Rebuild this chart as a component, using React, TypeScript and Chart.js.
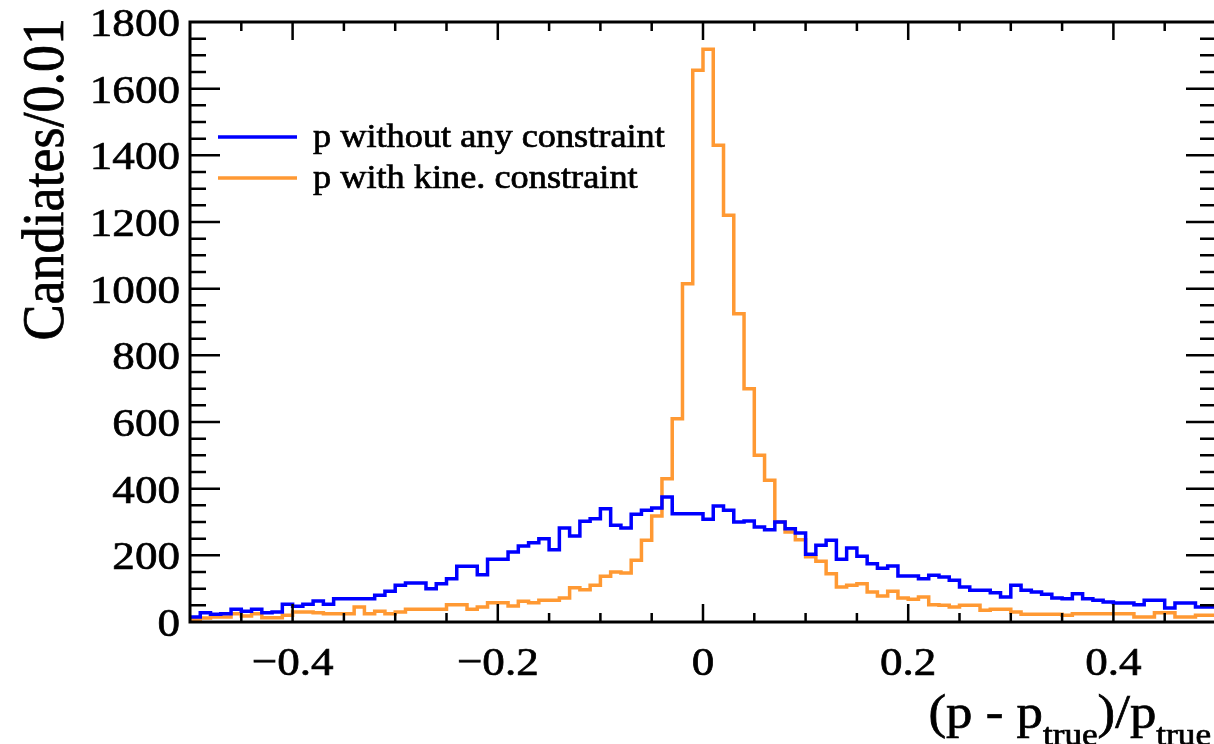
import React, { useEffect, useRef } from "react";
import { Chart, registerables } from "chart.js";

Chart.register(...registerables);

// ---- data ----
const xMin = -0.5;
const xMax = 0.5;
const binWidth = 0.01;
const yMin = 0;
const yMax = 1800;

// counts per bin (100 bins from -0.5 to 0.5)
const pNoConstraint = [
  15, 28, 23, 25, 38, 32, 38, 28, 30, 53,
  47, 53, 63, 53, 70, 70, 70, 70, 80, 92,
  110, 117, 117, 100, 115, 130, 167, 167, 142, 188,
  188, 210, 228, 238, 250, 217, 282, 258, 302, 310,
  340, 290, 282, 323, 335, 342, 375, 325, 325, 325,
  308, 348, 335, 300, 303, 285, 277, 300, 280, 267,
  203, 230, 245, 188, 222, 197, 175, 161, 168, 138,
  138, 130, 140, 135, 125, 105, 95, 95, 88, 75,
  110, 95, 90, 83, 72, 70, 85, 70, 65, 60,
  57, 57, 52, 65, 65, 42, 57, 57, 45, 45,
];

const pKineConstraint = [
  8, 12, 15, 15, 25, 18, 25, 13, 13, 20,
  30, 30, 28, 25, 25, 25, 45, 25, 32, 25,
  30, 38, 38, 38, 38, 52, 52, 38, 45, 58,
  58, 48, 62, 58, 65, 65, 72, 103, 97, 110,
  137, 150, 147, 185, 245, 318, 430, 610, 1015, 1655,
  1718, 1430, 1220, 925, 700, 500, 425, 300, 270, 247,
  196, 182, 145, 105, 110, 115, 90, 78, 92, 72,
  68, 75, 52, 50, 45, 50, 50, 35, 38, 38,
  30, 23, 23, 23, 23, 20, 25, 25, 25, 25,
  25, 25, 15, 15, 28, 28, 15, 15, 20, 20,
];

const seriesLabels = ["p without any constraint", "p with kine. constraint"];
const seriesColors = ["#0000ff", "#ff9933"];

const xTickValues = [-0.4, -0.2, 0, 0.2, 0.4];
const xTickLabels = ["\u22120.4", "\u22120.2", "0", "0.2", "0.4"];
const xMinorStep = 0.05;
const yTickValues = [0, 200, 400, 600, 800, 1000, 1200, 1400, 1600, 1800];
const yTickLabels = ["0", "200", "400", "600", "800", "1000", "1200", "1400", "1600", "1800"];
const yMinorStep = 50;

const yTitle = "Candiates/0.01";
const xTitleParts = [
  { text: "(p - p", sub: false },
  { text: "true", sub: true },
  { text: ")/p", sub: false },
  { text: "true", sub: true },
];

function histPoints(values: number[]) {
  const pts: { x: number; y: number }[] = [];
  values.forEach((v, i) => {
    const lo = xMin + i * binWidth;
    const hi = lo + binWidth;
    pts.push({ x: lo, y: v }, { x: hi, y: v });
  });
  return pts;
}

const SERIF = '"Liberation Serif", "Times New Roman", Tinos, serif';
const STRETCH = 1.1;

function drawText(ctx: CanvasRenderingContext2D, text: string) {
  ctx.fillText(text, 0, 0);
  ctx.lineWidth = 0.7;
  ctx.strokeStyle = "#000";
  ctx.strokeText(text, 0, 0);
}

function stretchedText(
  ctx: CanvasRenderingContext2D,
  text: string,
  x: number,
  y: number,
  align: CanvasTextAlign,
  baseline: CanvasTextBaseline,
  size: number
) {
  ctx.save();
  ctx.font = `${size}px ${SERIF}`;
  ctx.textAlign = align;
  ctx.textBaseline = baseline;
  ctx.translate(x, y);
  ctx.scale(STRETCH, 1);
  drawText(ctx, text);
  ctx.restore();
}

const rootStylePlugin = {
  id: "rootStyle",
  afterDatasetsDraw(chart: any) {
    const ctx: CanvasRenderingContext2D = chart.ctx;
    const area = chart.chartArea;
    const xs = chart.scales.x;
    const ys = chart.scales.y;
    ctx.save();
    ctx.strokeStyle = "#000";
    ctx.fillStyle = "#000";

    // frame
    ctx.lineWidth = 3;
    ctx.strokeRect(area.left, area.top, area.right - area.left, area.bottom - area.top);

    // x ticks (bottom and top, inside)
    ctx.lineWidth = 2.5;
    const xMajLen = 18;
    const xMinLen = 9;
    for (let v = xMin + xMinorStep; v < xMax - 1e-9; v += xMinorStep) {
      const isMajor = xTickValues.some((t) => Math.abs(t - v) < 1e-6);
      const len = isMajor ? xMajLen : xMinLen;
      const px = xs.getPixelForValue(v);
      ctx.beginPath();
      ctx.moveTo(px, area.bottom);
      ctx.lineTo(px, area.bottom - len);
      ctx.moveTo(px, area.top);
      ctx.lineTo(px, area.top + len);
      ctx.stroke();
    }
    // y ticks (left and right, inside)
    const yMajLen = 30;
    const yMinLen = 16;
    for (let v = yMin + yMinorStep; v < yMax - 1e-9; v += yMinorStep) {
      const isMajor = yTickValues.includes(v);
      const len = isMajor ? yMajLen : yMinLen;
      const py = ys.getPixelForValue(v);
      ctx.beginPath();
      ctx.moveTo(area.left, py);
      ctx.lineTo(area.left + len, py);
      ctx.moveTo(area.right, py);
      ctx.lineTo(area.right - len, py);
      ctx.stroke();
    }

    // tick labels
    const labelSize = 41;
    xTickValues.forEach((v, i) => {
      stretchedText(ctx, xTickLabels[i], xs.getPixelForValue(v), area.bottom + 53, "center", "alphabetic", labelSize);
    });
    yTickValues.forEach((v, i) => {
      stretchedText(ctx, yTickLabels[i], area.left - 10, ys.getPixelForValue(v) + 14, "right", "alphabetic", labelSize);
    });

    // y title (rotated, right-aligned to top)
    ctx.save();
    ctx.font = `54px ${SERIF}`;
    ctx.textAlign = "right";
    ctx.textBaseline = "alphabetic";
    ctx.translate(63, area.top - 4);
    ctx.rotate(-Math.PI / 2);
    ctx.scale(1, STRETCH);
    drawText(ctx, yTitle);
    ctx.restore();

    // x title (right-aligned at the right edge)
    const mainSize = 48;
    const subSize = 32;
    ctx.save();
    let total = 0;
    const widths = xTitleParts.map((p) => {
      ctx.font = `${p.sub ? subSize : mainSize}px ${SERIF}`;
      const w = ctx.measureText(p.text).width * STRETCH;
      total += w;
      return w;
    });
    let cx = 1211 - total;
    xTitleParts.forEach((p, i) => {
      stretchedText(ctx, p.text, cx, p.sub ? 745 : 728, "left", "alphabetic", p.sub ? subSize : mainSize);
      cx += widths[i];
    });
    ctx.restore();

    // legend
    const legendRows = [137, 178];
    chart.data.datasets.forEach((ds: any, i: number) => {
      const y = legendRows[i];
      ctx.strokeStyle = ds.borderColor;
      ctx.lineWidth = 3.5;
      ctx.beginPath();
      ctx.moveTo(218, y);
      ctx.lineTo(297, y);
      ctx.stroke();
      ctx.fillStyle = "#000";
      stretchedText(ctx, ds.label, 313, y + 10, "left", "alphabetic", 33);
    });

    ctx.restore();
  },
};

export default function App() {
  const canvasRef = useRef<HTMLCanvasElement | null>(null);

  useEffect(() => {
    const canvas = canvasRef.current;
    if (!canvas) return;
    let chart: Chart | null = null;
    let cancelled = false;
    const build = () => {
      if (cancelled) return;
      chart = new Chart(canvas, {
        type: "line",
        data: {
          datasets: [
            {
              label: seriesLabels[0],
              data: histPoints(pNoConstraint),
              borderColor: seriesColors[0],
              borderWidth: 3.5,
              pointRadius: 0,
              fill: false,
              tension: 0,
            },
            {
              label: seriesLabels[1],
              data: histPoints(pKineConstraint),
              borderColor: seriesColors[1],
              borderWidth: 3.5,
              pointRadius: 0,
              fill: false,
              tension: 0,
            },
          ],
        },
        options: {
          animation: false,
          responsive: false,
          maintainAspectRatio: false,
          devicePixelRatio: 1,
          layout: { padding: { left: 190, top: 22, right: 6, bottom: 122 } },
          scales: {
            x: { type: "linear", min: xMin, max: xMax, display: false },
            y: { type: "linear", min: yMin, max: yMax, display: false },
          },
          plugins: {
            legend: { display: false },
            tooltip: { enabled: false },
            title: { display: false },
          },
          events: [],
        },
        plugins: [rootStylePlugin],
      });
    };
    const fonts = (document as any).fonts;
    if (fonts && fonts.load) {
      Promise.all([
        fonts.load('41px "Liberation Serif"'),
        fonts.load('41px "Times New Roman"'),
      ])
        .catch(() => null)
        .then(() => build());
    } else {
      build();
    }
    return () => {
      cancelled = true;
      if (chart) chart.destroy();
    };
  }, []);

  return (
    <div
      style={{
        position: "absolute",
        left: 0,
        top: 0,
        width: 1214,
        height: 744,
        overflow: "hidden",
        background: "#fff",
      }}
    >
      <span style={{ fontFamily: SERIF, position: "absolute", left: -9999, top: 0 }}>0</span>
      <canvas ref={canvasRef} width={1222} height={744} style={{ display: "block" }} />
    </div>
  );
}
